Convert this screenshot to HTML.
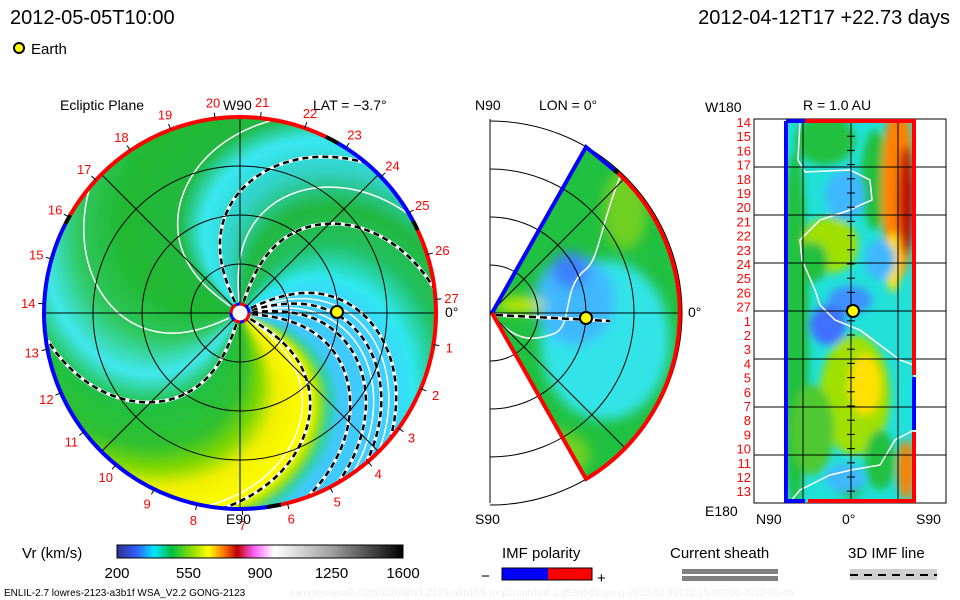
<!DOCTYPE html>
<html><head><meta charset="utf-8"><style>
html,body{margin:0;padding:0;background:#fff;width:960px;height:600px;overflow:hidden}
svg{display:block;font-family:"Liberation Sans",sans-serif}
</style></head><body>
<svg id="s" width="960" height="600" viewBox="0 0 960 600" xmlns="http://www.w3.org/2000/svg">
<defs>
<filter id="bl" x="-20%" y="-20%" width="140%" height="140%"><feGaussianBlur stdDeviation="6"/></filter>
<filter id="bl2" x="-20%" y="-20%" width="140%" height="140%"><feGaussianBlur stdDeviation="4"/></filter>
<filter id="bl3" x="-5%" y="-5%" width="110%" height="110%"><feGaussianBlur stdDeviation="2.5"/></filter>
<clipPath id="circ"><circle cx="240" cy="313" r="196"/></clipPath>
<clipPath id="wedge"><path d="M490,313 L586,147 A192,192 0 0 1 586,479 Z"/></clipPath>
<clipPath id="strip"><rect x="786" y="121" width="128" height="381"/></clipPath>
<linearGradient id="cb" x1="0" x2="1">
<stop offset="0" stop-color="#303090"/><stop offset="0.07" stop-color="#3060ff"/><stop offset="0.13" stop-color="#00e8ff"/><stop offset="0.19" stop-color="#00c040"/><stop offset="0.27" stop-color="#a0e000"/><stop offset="0.32" stop-color="#ffff00"/><stop offset="0.37" stop-color="#ff8000"/><stop offset="0.42" stop-color="#c00000"/><stop offset="0.48" stop-color="#ff60ff"/><stop offset="0.55" stop-color="#ffffff"/><stop offset="0.75" stop-color="#a0a0a0"/><stop offset="1" stop-color="#000000"/>
</linearGradient>
</defs>
<text x="10" y="24" font-size="20">2012-05-05T10:00</text>
<text x="950" y="24" font-size="20" text-anchor="end">2012-04-12T17 +22.73 days</text>
<circle cx="19" cy="48" r="5" fill="#ff0" stroke="#000" stroke-width="2"/>
<text x="31" y="54" font-size="15">Earth</text>

<g id="left"></g>
<g id="mid"></g>
<g id="right"></g>

<text x="60" y="110" font-size="14">Ecliptic Plane</text>
<text x="313" y="110" font-size="14">LAT = −3.7°</text>
<text x="223" y="110" font-size="14">W90</text>
<text x="226" y="524" font-size="14">E90</text>
<text x="445" y="317" font-size="14">0°</text>
<text x="475" y="110" font-size="14">N90</text>
<text x="539" y="110" font-size="14">LON = 0°</text>
<text x="475" y="524" font-size="14">S90</text>
<text x="688" y="317" font-size="14">0°</text>
<text x="803" y="110" font-size="14">R = 1.0 AU</text>
<text x="705" y="112" font-size="14">W180</text>
<text x="705" y="516" font-size="14">E180</text>
<text x="756" y="524" font-size="14">N90</text>
<text x="842" y="524" font-size="14">0°</text>
<text x="916" y="524" font-size="14">S90</text>

<text x="22" y="558" font-size="15">Vr (km/s)</text>
<rect x="117" y="545" width="286" height="13" fill="url(#cb)" stroke="#000"/>
<g id="cbt"></g>

<text x="502" y="558" font-size="15">IMF polarity</text>
<rect x="502" y="568" width="46" height="12" fill="#0000ff"/>
<rect x="548" y="568" width="44" height="12" fill="#ff0000"/>
<rect x="502" y="568" width="90" height="12" fill="none" stroke="#000"/>
<text x="481" y="581" font-size="15">−</text>
<text x="597" y="583" font-size="15">+</text>
<text x="670" y="558" font-size="15">Current sheath</text>
<rect x="682" y="569" width="96" height="5" fill="#808080"/>
<rect x="682" y="576" width="96" height="5" fill="#808080"/>
<text x="848" y="558" font-size="15">3D IMF line</text>
<rect x="850" y="569" width="87" height="11" fill="#d0d0d0"/>
<line x1="850" y1="575" x2="937" y2="575" stroke="#000" stroke-width="2" stroke-dasharray="8,6"/>
<text x="4" y="596" font-size="10">ENLIL-2.7 lowres-2123-a3b1f WSA_V2.2 GONG-2123</text>
<text x="290" y="596" font-size="10" fill="#eeeeee">xamples/wsa2.7/256x30x90x1.2123-a3b1f.8-mcp1umn1cd-1.g53q5d2.gong-2012:03:31T22:15:00T00   2012-05-05</text>
</svg>
<script>
const NS="http://www.w3.org/2000/svg";
const cbTicks=[200,550,900,1250,1600];
const carrLabels=[14,15,16,17,18,19,20,21,22,23,24,25,26,27,1,2,3,4,5,6,7,8,9,10,11,12,13];
const eclLabelsDeg=[177.3,164,150.7,137.3,124,110.7,97.3,84,70.7,57.3,44,30.7,17.3,4,-9.3,-22.7,-36,-49.3,-62.7,-76,-89.3,-102.7,-116,-129.3,-142.7,-156,-169.3];
// solar wind speed pattern by source longitude (deg) at the sun
const srcLon=[-180,-150,-125,-105,-80,-65,-52,-30,-24,-18,-10,20,38,60,83,105,128,145,180];
const srcCol=['#20b830','#30c860','#40e8f0','#20c040','#30c030','#80d800','#f0f000','#ffff00','#a0e000','#30d0a0','#40c8ff','#40d0ff','#30e8f0','#20c060','#20b840','#30d0c0','#38e8f4','#20b840','#20b830'];
const dashedLon=[-108,-30,-5,5,15,25,72,115];
const whiteLon=[-35,10,20,95,145,205];
function mk(t,a,p){const e=document.createElementNS(NS,t);for(const k in a)e.setAttribute(k,a[k]);(p||document.getElementById('s')).appendChild(e);return e;}
function hex(c){return [1,3,5].map(i=>parseInt(c.substr(i,2),16));}
function colAt(a){let i=0;while(i<srcLon.length-2&&a>srcLon[i+1])i++;const t=(a-srcLon[i])/(srcLon[i+1]-srcLon[i]);const c1=hex(srcCol[i]),c2=hex(srcCol[i+1]);return 'rgb('+c1.map((v,k)=>Math.round(v+(c2[k]-v)*t)).join(',')+')';}
const CX=240,CY=313,R=196,TW=65;
function pt(r,a){const t=a*Math.PI/180;return [CX+r*Math.cos(t),CY-r*Math.sin(t)];}
function spiral(a0,r0,r1){const p=[];for(let r=r0;r<=r1;r+=4)p.push(pt(r,a0-TW*(r/R)*(r/R)));return p;}
function band(a0,a1){let p=spiral(a0,0,R+24);let q=spiral(a1,0,R+24).reverse();return 'M'+p.concat(q).map(v=>v[0].toFixed(1)+','+v[1].toFixed(1)).join('L')+'Z';}
const cbt=document.getElementById('cbt');
cbTicks.forEach((v,i)=>{const x=117+(v-200)/1400*286;
const t=mk('text',{x:x,y:578,'font-size':15,'text-anchor':'middle'},cbt);t.textContent=v;

});
// LEFT PANEL
const L=document.getElementById('left');
const g=mk('g',{'clip-path':'url(#circ)'},L);
mk('circle',{cx:CX,cy:CY,r:R,fill:'#20c040'},g);
const gb=mk('g',{filter:'url(#bl3)'},g);
for(let a=-180;a<180;a+=2){mk('path',{d:band(a-0.6,a+2.6),fill:colAt(a+1)},gb);}
whiteLon.forEach(a=>{const p=spiral(a,12,R+10);const l=mk('polyline',{points:p.map(v=>v.join(',')).join(' '),fill:'none',stroke:'#fff','stroke-width':1.5},g);

});
dashedLon.forEach(a=>{const p=spiral(a,12,R+10);
mk('polyline',{points:p.map(v=>v.join(',')).join(' '),fill:'none',stroke:'#fff','stroke-width':3.5},g);
const l=mk('polyline',{points:p.map(v=>v.join(',')).join(' '),fill:'none',stroke:'#000','stroke-width':2.5,'stroke-dasharray':'6,4'},g);

});
[49,98,147].forEach(r=>mk('circle',{cx:CX,cy:CY,r:r,fill:'none',stroke:'#000','stroke-width':1},L));
for(let a=0;a<180;a+=45){const p=pt(R,a),q=pt(R,a+180);mk('line',{x1:p[0],y1:p[1],x2:q[0],y2:q[1],stroke:'#000','stroke-width':1},L);}
function arc(a0,a1,col){const p=pt(R,a0),q=pt(R,a1);return mk('path',{d:`M${p[0]},${p[1]} A${R},${R} 0 ${Math.abs(a1-a0)>180?1:0} 0 ${q[0]},${q[1]}`,fill:'none',stroke:col,'stroke-width':4},L);}
arc(-78,25,'#ff0000');arc(25,28,'#000');arc(28,60,'#0000ff');arc(60,64,'#000');arc(64,150,'#ff0000');arc(150,153,'#000');arc(153,282,'#0000ff');arc(-78,-82,'#000');
mk('circle',{cx:CX,cy:CY,r:9,fill:'#fff',stroke:'#0000ff','stroke-width':3},L);
mk('circle',{cx:CX,cy:CY,r:9,fill:'none',stroke:'#ff0000','stroke-width':3,'stroke-dasharray':'10,4,6,8'},L);
carrLabels.forEach((n,i)=>{const a=eclLabelsDeg[i];const p=pt(R+16,a);const tk1=pt(R,a),tk2=pt(R+6,a);
mk('line',{x1:tk1[0],y1:tk1[1],x2:tk2[0],y2:tk2[1],stroke:'#000'},L);
const t=mk('text',{x:p[0],y:p[1]+5,'font-size':13,fill:'#ff0000','text-anchor':'middle'},L);t.textContent=n;

});
const e1=mk('circle',{cx:337,cy:312,r:6,fill:'#ff0',stroke:'#000','stroke-width':2},L);


// MID PANEL
const M=document.getElementById('mid');
mk('line',{x1:490,y1:119,x2:490,y2:503,stroke:'#000'},M);
const gm=mk('g',{'clip-path':'url(#wedge)'},M);
mk('rect',{x:490,y:140,width:200,height:345,fill:'#20c040'},gm);
const gmb=mk('g',{filter:'url(#bl)'},gm);
mk('ellipse',{cx:605,cy:340,rx:65,ry:80,fill:'#30e4e8'},gmb);
mk('ellipse',{cx:575,cy:300,rx:40,ry:45,fill:'#40b8ff'},gmb);
mk('ellipse',{cx:570,cy:270,rx:18,ry:18,fill:'#3c80ff'},gmb);
mk('ellipse',{cx:625,cy:210,rx:22,ry:40,fill:'#70d020'},gmb);
mk('ellipse',{cx:555,cy:455,rx:35,ry:25,fill:'#70d020'},gmb);
mk('ellipse',{cx:520,cy:305,rx:25,ry:8,fill:'#c8e800'},gmb);
mk('path',{d:'M628,158 C600,220 600,260 585,270 C560,290 575,330 550,335 C520,345 510,330 495,320',fill:'none',stroke:'#fff','stroke-width':1.5},gm);
[48,96,144,192].forEach(r=>mk('path',{d:`M490,${313-r} A${r},${r} 0 0 1 490,${313+r}`,fill:'none',stroke:'#000'},M));
mk('line',{x1:490,y1:313,x2:682,y2:313,stroke:'#000'},M);
mk('line',{x1:490,y1:313,x2:626,y2:177,stroke:'#000'},M);
mk('line',{x1:490,y1:313,x2:626,y2:449,stroke:'#000'},M);
mk('path',{d:'M492,313 L586,147 L614,170',fill:'none',stroke:'#0000ff','stroke-width':4},M);
mk('path',{d:'M614,170 L618,173',fill:'none',stroke:'#000','stroke-width':4},M);
mk('path',{d:'M618,173 A192,192 0 0 1 586,479 L492,313',fill:'none',stroke:'#ff0000','stroke-width':4},M);
mk('line',{x1:496,y1:315,x2:610,y2:321,stroke:'#fff','stroke-width':3.5},M);
mk('line',{x1:496,y1:315,x2:610,y2:321,stroke:'#000','stroke-width':2.5,'stroke-dasharray':'7,4'},M);
const e2=mk('circle',{cx:586,cy:318,r:6,fill:'#ff0',stroke:'#000','stroke-width':2},M);


// RIGHT PANEL
const RP=document.getElementById('right');
mk('rect',{x:754,y:119,width:192,height:384,fill:'#fff',stroke:'#000'},RP);
const gr=mk('g',{'clip-path':'url(#strip)'},RP);
mk('rect',{x:786,y:121,width:128,height:381,fill:'#20e0d8'},gr);
const grb=mk('g',{filter:'url(#bl2)'},gr);
[[795,330,14,180,'#20c040'],[825,140,30,25,'#20c040'],[875,180,14,50,'#20c040'],[830,245,28,28,'#a0e000'],[812,262,16,20,'#20c040'],[850,300,22,14,'#4090ff'],[828,325,18,20,'#4070ff'],[855,395,35,60,'#a0e000'],[865,385,16,30,'#ffe000'],[812,430,22,45,'#50c830'],[880,460,15,30,'#20c040'],[850,485,14,14,'#20c040'],[898,190,16,90,'#ff8000'],[906,200,8,55,'#c01000'],[893,262,8,30,'#ffe000'],[906,470,8,30,'#ff8000'],[845,195,20,25,'#40b8ff'],[880,260,15,20,'#40b8ff'],[845,478,20,14,'#40b8ff']]
.forEach(b=>mk('ellipse',{cx:b[0],cy:b[1],rx:b[2],ry:b[3],fill:b[4]},grb));
mk('path',{d:'M800,121 L798,160 L805,172 L850,170 L870,180 L872,200 L860,205 L850,210 L820,220 L800,240 L802,260 L815,290 L820,305 L835,320 L860,330 L900,360 L914,365',fill:'none',stroke:'#fff','stroke-width':1.5},gr);
mk('path',{d:'M790,502 L800,490 L830,475 L851,470 L880,465 L895,440 L914,430',fill:'none',stroke:'#fff','stroke-width':1.5},gr);
[167,215,263,311,359,407,455].forEach(y=>mk('line',{x1:754,y1:y,x2:946,y2:y,stroke:'#000'},RP));
[803,851,898].forEach(x=>mk('line',{x1:x,y1:119,x2:x,y2:503,stroke:'#000'},RP));
for(let i=0;i<27;i++){const y=122+i*14.2;mk('line',{x1:847,y1:y,x2:855,y2:y,stroke:'#000'},RP);
const t=mk('text',{x:751,y:y+5,'font-size':13,fill:'#ff0000','text-anchor':'end'},RP);t.textContent=carrLabels[i];

}
mk('path',{d:'M786,121 L786,501 L805,501',fill:'none',stroke:'#0000ff','stroke-width':4},RP);
mk('path',{d:'M786,121 L805,121',fill:'none',stroke:'#0000ff','stroke-width':4},RP);
mk('path',{d:'M805,121 L914,121 L914,375',fill:'none',stroke:'#ff0000','stroke-width':4},RP);
mk('path',{d:'M914,377 L914,430',fill:'none',stroke:'#0000ff','stroke-width':4},RP);
mk('path',{d:'M914,432 L914,501 L808,501',fill:'none',stroke:'#ff0000','stroke-width':4},RP);
const e3=mk('circle',{cx:853,cy:311,r:6,fill:'#ff0',stroke:'#000','stroke-width':2},RP);


</script>
</body></html>
